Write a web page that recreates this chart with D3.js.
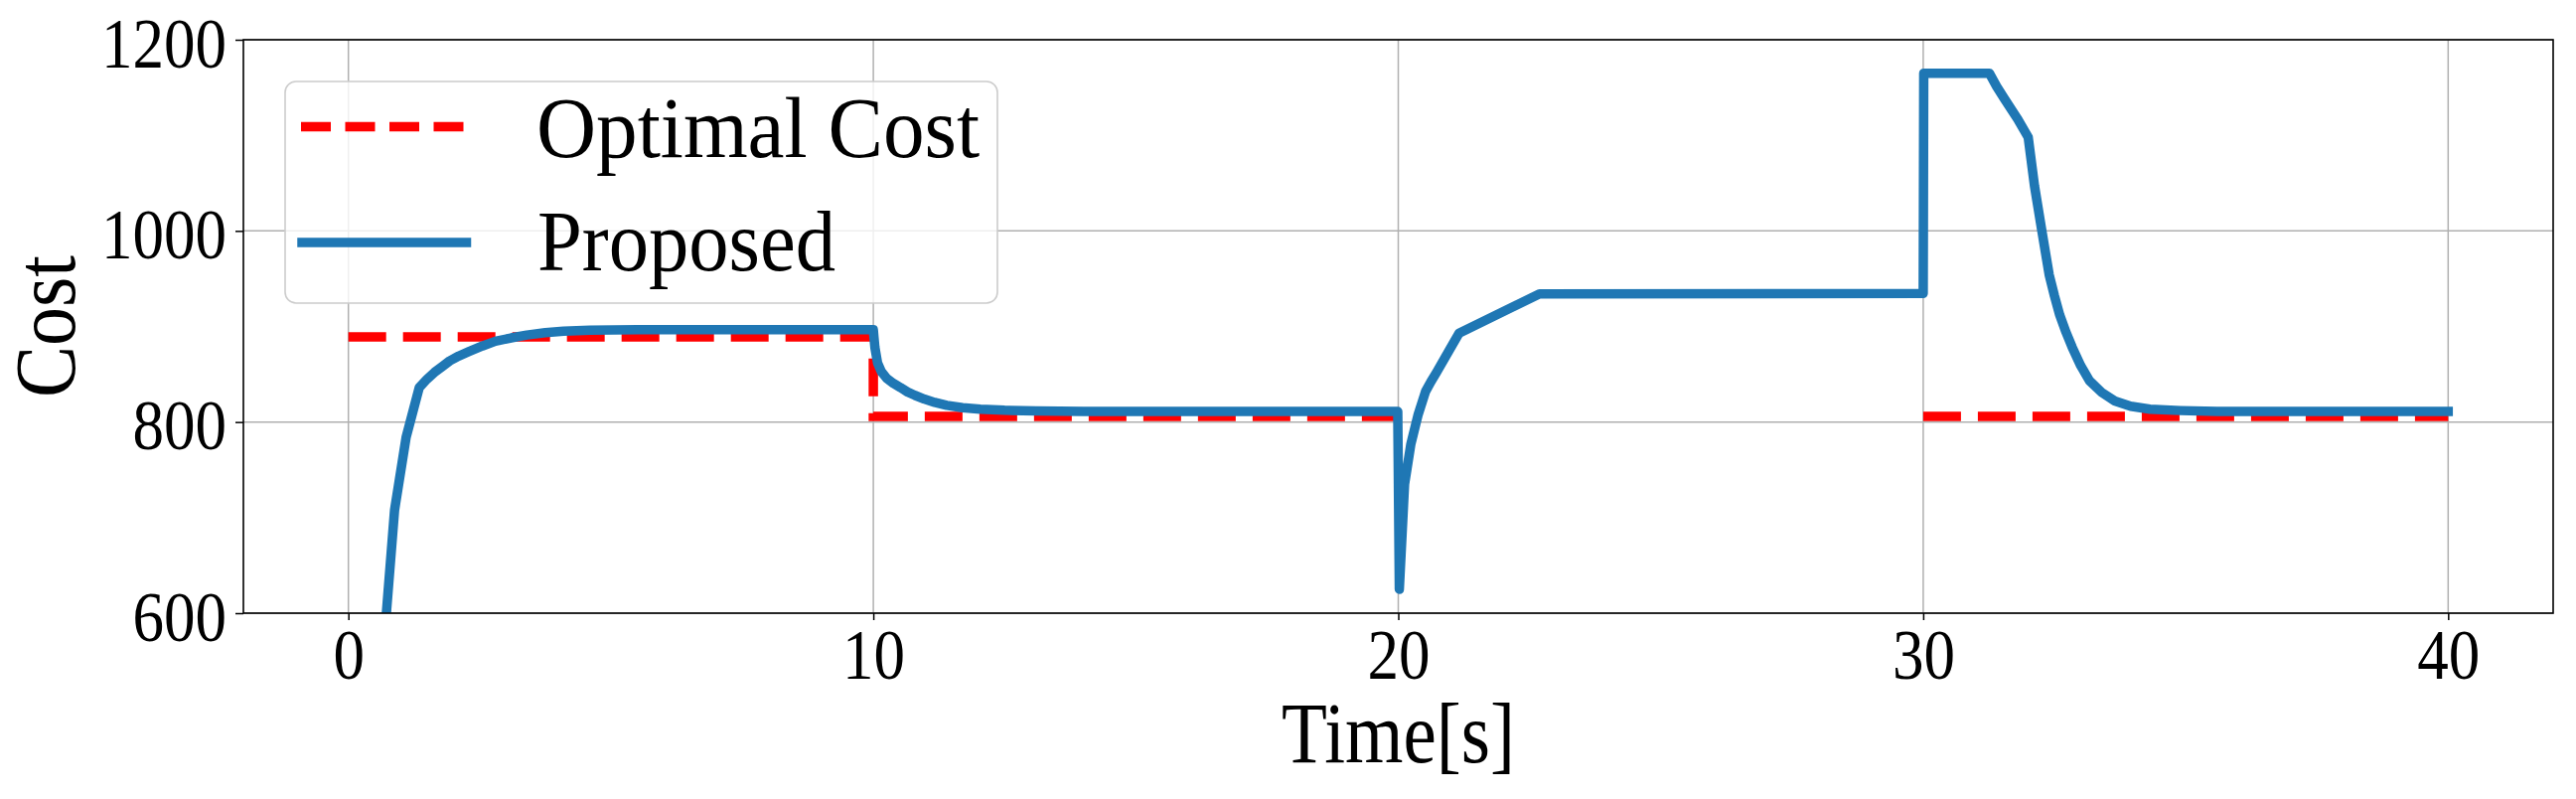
<!DOCTYPE html>
<html lang="en">
<head>
<meta charset="utf-8">
<title>Cost over time</title>
<script src="https://d3js.org/d3.v7.min.js"></script>
<style>
  body { margin: 0; background: #fff; }
  text { font-family: "Liberation Serif", "DejaVu Serif", serif; fill: #000; }
  .grid line { stroke: #b0b0b0; stroke-width: 1.5; }
</style>
</head>
<body>
<script>
// ---- data ----
const xTicks = [0, 10, 20, 30, 40];
const yTicks = [600, 800, 1000, 1200];

const optTime = [0, 10, 10, 20, null, 30, 40];
const optCost = [889, 889, 806, 806, null, 806, 806];

const propTime = [0.55, 0.88, 1.10, 1.35, 1.5, 1.64, 1.8, 1.93, 2.1, 2.29, 2.55, 2.8, 3.1, 3.4, 3.75, 4.1, 4.6, 5.5, 10,
                  10.01, 10.03, 10.08, 10.15, 10.25, 10.38, 10.52, 10.65, 10.79, 10.97, 11.17, 11.4, 11.7, 12.04, 12.5, 13.1, 14, 19.99,
                  20.02, 20.12, 20.24, 20.38, 20.52, 20.62, 20.73, 20.95, 21.16, 22.69, 30,
                  30.01, 31.26, 31.4, 31.55, 31.8, 32.0, 32.12, 32.26, 32.4, 32.5, 32.6, 32.72, 32.84, 33.0, 33.17,
                  33.4, 33.65, 33.95, 34.32, 34.9, 35.6, 40];
const propCost = [480, 708, 784, 836, 845, 852, 858.5, 864, 869, 873.5, 879.5, 884.5, 888, 891, 893.5, 895, 896, 896.5, 896.5,
                  890, 878, 862, 853, 846, 840.5, 836, 831.5, 828, 824, 820.5, 817.5, 815, 813.5, 812.3, 811.5, 811, 811,
                  625, 735, 777, 808, 832, 842, 852, 873, 893, 934, 934.5,
                  1165, 1165, 1151, 1138, 1117, 1098, 1047, 1000, 954, 932, 912, 894, 878, 859, 843,
                  831, 822, 816.5, 813.5, 812, 811, 811];

const seriesNames = ["Optimal Cost", "Proposed"];

// ---- layout ----
const W = 2593, H = 804;
const pLeft = 245, pRight = 2570, pTop = 40, pBottom = 617;

const svg = d3.select("body").append("svg")
    .attr("width", W).attr("height", H);

const x = d3.scaleLinear().domain([-2, 42]).range([pLeft, pRight]);
const y = d3.scaleLinear().domain([600, 1200]).range([pBottom, pTop]);

// squeeze text to a target width (the reference font is narrow)
function squeeze(sel, w) {
  sel.attr("textLength", w).attr("lengthAdjust", "spacingAndGlyphs");
}

// grid
const grid = svg.append("g").attr("class", "grid");
grid.selectAll(".gx").data(xTicks).enter().append("line")
    .attr("x1", d => x(d)).attr("x2", d => x(d))
    .attr("y1", pTop).attr("y2", pBottom);
grid.selectAll(".gy").data(yTicks).enter().append("line")
    .attr("x1", pLeft).attr("x2", pRight)
    .attr("y1", d => y(d)).attr("y2", d => y(d));

// clip
svg.append("clipPath").attr("id", "plot-clip")
  .append("rect")
    .attr("x", pLeft).attr("y", pTop)
    .attr("width", pRight - pLeft).attr("height", pBottom - pTop);

const optData = optTime.map((t, i) => ({t: t, v: optCost[i]}));
const propData = propTime.map((t, i) => ({t: t, v: propCost[i]}));

const line = d3.line()
    .defined(d => d.t !== null && d.v !== null)
    .x(d => x(d.t))
    .y(d => y(d.v));

const lines = svg.append("g").attr("clip-path", "url(#plot-clip)");

lines.append("path")
    .datum(optData)
    .attr("d", line)
    .attr("fill", "none")
    .attr("stroke", "#ff0000")
    .attr("stroke-width", 9.5)
    .attr("stroke-dasharray", "38,17");

lines.append("path")
    .datum(propData)
    .attr("d", line)
    .attr("fill", "none")
    .attr("stroke", "#1f77b4")
    .attr("stroke-width", 9.5)
    .attr("stroke-linejoin", "round")
    .attr("stroke-linecap", "square");

// axes
const xAxis = d3.axisBottom(x).tickValues(xTicks).tickSize(7).tickFormat(d3.format("d"));
const yAxis = d3.axisLeft(y).tickValues(yTicks).tickSize(8).tickFormat(d3.format("d"));

const gx = svg.append("g")
    .attr("transform", "translate(0," + pBottom + ")")
    .call(xAxis);
gx.select(".domain").remove();
gx.selectAll(".tick line").attr("stroke", "#000").attr("stroke-width", 1.5);
gx.selectAll(".tick text")
    .attr("y", 66).attr("dy", null)
    .style("font-size", "71px")
    .each(function(d) { squeeze(d3.select(this), String(d).length * 31.5); });

const gy = svg.append("g")
    .attr("transform", "translate(" + pLeft + ",0)")
    .call(yAxis);
gy.select(".domain").remove();
gy.selectAll(".tick line").attr("stroke", "#000").attr("stroke-width", 1.5);
gy.selectAll(".tick text")
    .attr("x", -17).attr("dy", 27)
    .style("font-size", "71px")
    .each(function(d) { squeeze(d3.select(this), String(d).length * 31.5); });

svg.selectAll(".tick").attr("font-family", null).attr("font-size", null);

// frame
svg.append("rect")
    .attr("x", pLeft).attr("y", pTop)
    .attr("width", pRight - pLeft).attr("height", pBottom - pTop)
    .attr("fill", "none").attr("stroke", "#000").attr("stroke-width", 1.6);

// axis labels
svg.append("text")
    .attr("x", (pLeft + pRight) / 2).attr("y", 767)
    .attr("text-anchor", "middle")
    .style("font-size", "86px")
    .text("Time[s]")
    .call(squeeze, 235);

svg.append("text")
    .attr("transform", "translate(75," + (pTop + pBottom) / 2 + ") rotate(-90)")
    .attr("text-anchor", "middle")
    .style("font-size", "86px")
    .text("Cost")
    .call(squeeze, 143);

// legend
const legend = svg.append("g");
legend.append("rect")
    .attr("x", 287).attr("y", 82)
    .attr("width", 717).attr("height", 223)
    .attr("rx", 11)
    .attr("fill", "#fff").attr("fill-opacity", 0.8)
    .attr("stroke", "#cccccc").attr("stroke-width", 1.6);

legend.append("line")
    .attr("x1", 303).attr("x2", 467).attr("y1", 127.5).attr("y2", 127.5)
    .attr("stroke", "#ff0000").attr("stroke-width", 9.5)
    .attr("stroke-dasharray", "30,14.5");
legend.append("line")
    .attr("x1", 304).attr("x2", 469.5).attr("y1", 244).attr("y2", 244)
    .attr("stroke", "#1f77b4").attr("stroke-width", 9.5)
    .attr("stroke-linecap", "square");

legend.append("text")
    .attr("x", 540).attr("y", 158)
    .style("font-size", "86px")
    .text(seriesNames[0])
    .call(squeeze, 446);
legend.append("text")
    .attr("x", 541).attr("y", 272)
    .style("font-size", "86px")
    .text(seriesNames[1])
    .call(squeeze, 300);
</script>
</body>
</html>
